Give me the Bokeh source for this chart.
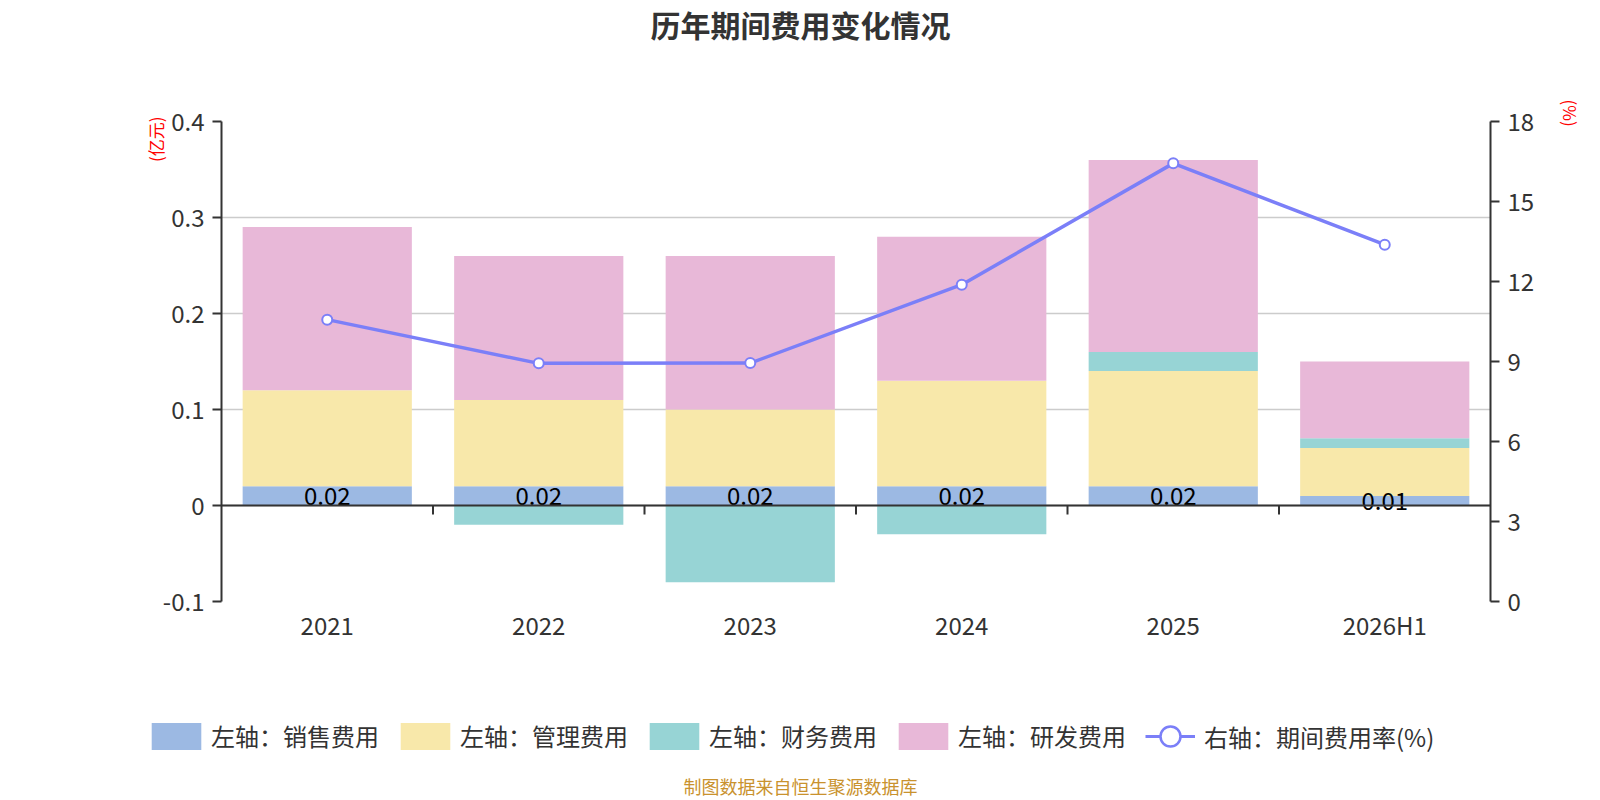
import math
from bokeh.plotting import figure
from bokeh.models import (ColumnDataSource, FactorRange, Range1d, LinearAxis, FixedTicker,
                          Span, Title, Label, Legend, LegendItem, CustomJSTickFormatter)
from bokeh.embed import file_html
from bokeh.resources import INLINE
from bokeh.core.properties import value

# ---------------- data ----------------
categories = ["2021", "2022", "2023", "2024", "2025", "2026H1"]
sales = [0.02, 0.02, 0.02, 0.02, 0.02, 0.01]
admin = [0.10, 0.09, 0.08, 0.11, 0.12, 0.05]
finance = [0.00, -0.02, -0.08, -0.03, 0.02, 0.01]
rnd = [0.17, 0.15, 0.16, 0.15, 0.20, 0.08]
rate = [10.57, 8.93, 8.94, 11.88, 16.43, 13.38]

series_names = ["左轴：销售费用", "左轴：管理费用", "左轴：财务费用", "左轴：研发费用"]
line_name = "右轴：期间费用率(%)"
left_ticks = [-0.1, 0, 0.1, 0.2, 0.3, 0.4]
left_tick_labels = ["-0.1", "0", "0.1", "0.2", "0.3", "0.4"]
right_ticks = [0, 3, 6, 9, 12, 15, 18]

title_text = "历年期间费用变化情况"
source_text = "制图数据来自恒生聚源数据库"
left_unit = "(亿元)"
right_unit = "(%)"

# ---------------- style ----------------
FONT = "Noto Sans CJK SC"
AXIS = "#333333"
BAR_COLORS = ["#9cb9e3", "#f8e8aa", "#97d4d5", "#e8b8d8"]
LINE_COLOR = "#7b7ff8"
W = 1600
H_TOP, H_MAIN, H_FOOT = 60, 620, 120


def strip(height):
    f = figure(width=W, height=height, title=None, x_range=Range1d(0, W),
               y_range=Range1d(0, height), x_axis_location=None, y_axis_location=None,
               output_backend="svg", toolbar_location=None, min_border=0)
    f.grid.visible = False
    f.outline_line_color = None
    f.background_fill_color = "white"
    f.border_fill_color = "white"
    return f


# ---------------- title strip ----------------
t = strip(H_TOP)
t.add_layout(Label(x=W / 2, y=H_TOP - 23, x_units="screen", y_units="screen", text=title_text,
                   text_font=FONT, text_font_size="30px", text_font_style="bold",
                   text_color=AXIS, text_align="center", text_baseline="middle"))

# ---------------- main chart ----------------
p = figure(width=W, height=H_MAIN, title=None,
           x_range=FactorRange(factors=categories, range_padding=0),
           y_range=Range1d(-0.1, 0.4),
           output_backend="svg", toolbar_location=None,
           min_border_left=221, min_border_right=107,
           min_border_top=61, min_border_bottom=H_MAIN - 541)
p.extra_y_ranges = {"pct": Range1d(0, 18)}
p.outline_line_color = None
p.background_fill_color = "white"
p.border_fill_color = "white"

# left axis
ya = p.yaxis[0]
ya.ticker = FixedTicker(ticks=left_ticks)
ya.formatter = CustomJSTickFormatter(args=dict(tvals=left_ticks, tlabels=left_tick_labels), code="""
    for (let i = 0; i < tvals.length; i++) { if (Math.abs(tvals[i] - tick) < 1e-9) return tlabels[i]; }
    return String(tick);
""")
# right axis
ra = LinearAxis(y_range_name="pct", ticker=FixedTicker(ticks=right_ticks))
p.add_layout(ra, "right")

for ax in (ya, ra):
    ax.axis_line_color = AXIS
    ax.axis_line_width = 2
    ax.major_tick_line_color = AXIS
    ax.major_tick_line_width = 2
    ax.major_tick_out = 9
    ax.major_tick_in = 0
    ax.minor_tick_line_color = None
    ax.major_label_text_font = FONT
    ax.major_label_text_font_size = "24px"
    ax.major_label_text_color = AXIS
    ax.major_label_standoff = 8

xa = p.xaxis[0]
xa.axis_line_color = None
xa.major_tick_line_color = None
xa.major_tick_out = 0
xa.major_tick_in = 0
xa.minor_tick_line_color = None
xa.major_label_text_font = FONT
xa.major_label_text_font_size = "24px"
xa.major_label_text_color = AXIS
xa.major_label_standoff = 5

p.xgrid.visible = False
p.ygrid.ticker = FixedTicker(ticks=left_ticks)
p.ygrid.grid_line_color = "#cccccc"
p.ygrid.grid_line_width = 1.5

# ---------------- stacked bars ----------------
n = len(categories)
pos = [0.0] * n
neg = [0.0] * n
for vals, color in zip([sales, admin, finance, rnd], BAR_COLORS):
    bottoms, tops = [], []
    for i, v in enumerate(vals):
        if v >= 0:
            bottoms.append(pos[i]); tops.append(pos[i] + v); pos[i] += v
        else:
            tops.append(neg[i]); bottoms.append(neg[i] + v); neg[i] += v
    src = ColumnDataSource(dict(x=categories, bottom=bottoms, top=tops))
    p.vbar(x="x", bottom="bottom", top="top", width=0.8, source=src,
           fill_color=color, line_color=None)

# labels on sales bars
lab_src = ColumnDataSource(dict(x=categories, y=[v / 2 for v in sales],
                                t=[f"{v:g}" for v in sales]))
p.text(x="x", y="y", text="t", source=lab_src, text_align="center",
       text_baseline="middle", text_font=value(FONT), text_font_size="24px",
       text_color="#000000")

# zero axis line and category boundary ticks
p.add_layout(Span(location=0, dimension="width", line_color=AXIS, line_width=2))
bounds = list(range(1, n))
tick_len = 9 * 0.5 / 480.0
p.segment(x0=bounds, x1=bounds, y0=[0] * len(bounds), y1=[-tick_len] * len(bounds),
          line_color=AXIS, line_width=2)

# ---------------- line ----------------
line_src = ColumnDataSource(dict(x=categories, y=rate))
p.line(x="x", y="y", source=line_src, y_range_name="pct",
       line_color=LINE_COLOR, line_width=3.5)
p.scatter(x="x", y="y", source=line_src, y_range_name="pct", size=10,
          fill_color="white", line_color=LINE_COLOR, line_width=2)

# ---------------- unit labels ----------------
p.add_layout(Title(text=left_unit, text_font=FONT, text_font_size="17px",
                   text_font_style="normal", text_color="#ff0000", align="right",
                   offset=-5, standoff=-17), "left")
p.add_layout(Title(text=right_unit, text_font=FONT, text_font_size="17px",
                   text_font_style="normal", text_color="#ff0000", align="left",
                   vertical_align="top", offset=-22, standoff=36), "right")

# ---------------- legend + source strip ----------------
q = strip(H_FOOT)

# zero-size key glyphs used only to draw the legend swatches
bar_keys = [q.vbar(x=[0], top=[0], bottom=[0], width=0, fill_color=c, line_color=None)
            for c in BAR_COLORS]
key_line = q.line(x=[0], y=[0], line_color=LINE_COLOR, line_width=3)
key_dot = q.scatter(x=[0], y=[0], size=0, fill_color="white", line_color=LINE_COLOR,
                    line_width=2.5)

legend_text = dict(label_text_font=FONT, label_text_font_size="24px", label_text_color=AXIS,
                   orientation="horizontal", padding=0, margin=0,
                   border_line_color=None, background_fill_alpha=0)
leg1 = Legend(items=[LegendItem(label=nm, renderers=[r]) for nm, r in zip(series_names, bar_keys)],
              location=(145, 47), glyph_width=62, glyph_height=34, label_standoff=4,
              spacing=15, **legend_text)
leg2 = Legend(items=[LegendItem(label=line_name, renderers=[key_line, key_dot])],
              location=(1145, 39), glyph_width=50, glyph_height=50, label_standoff=9,
              **legend_text)
q.add_layout(leg1)
q.add_layout(leg2)
q.add_layout(Label(x=W / 2, y=15, x_units="screen", y_units="screen", text=source_text,
                   text_font=FONT, text_font_size="18px", text_color="#c9922e",
                   text_align="center", text_baseline="middle"))

open("out.html", "w").write(file_html([t, p, q], INLINE))
